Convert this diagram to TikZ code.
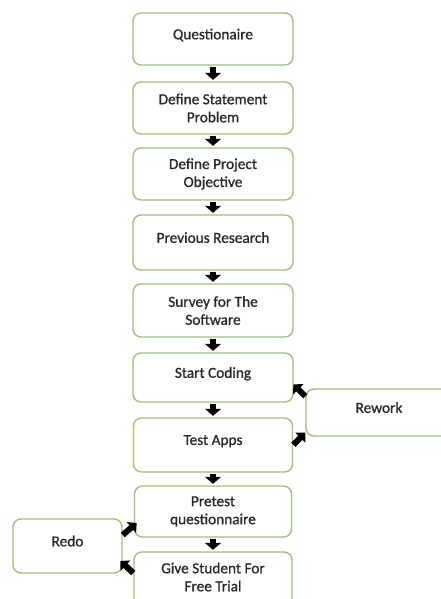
\documentclass[tikz,border=0pt]{standalone}
\usepackage{fontspec}
\setmainfont{Carlito}[FakeBold=0.9]
\usetikzlibrary{arrows.meta,calc}
\definecolor{boxgreen}{RGB}{160,192,125}
\definecolor{txt}{RGB}{40,40,40}
\begin{document}
\begin{tikzpicture}[x=1pt,y=-1pt,
  box/.style={draw=boxgreen,line width=1.4pt,rounded corners=8pt,fill=white,
    inner sep=0pt,align=center,text=txt,
    font=\fontsize{15.3}{18}\selectfont},
  one/.style={text depth=10pt},
  blk/.style={line width=6.5pt,-{Triangle[width=16pt,length=7pt]},shorten <=1pt,shorten >=1.5pt},
  blkd/.style={line width=6pt,-{Triangle[width=14pt,length=7pt]}}]
\clip (0,0) rectangle (441,599);
\fill[white] (0,0) rectangle (441,599);
\node[box,one,minimum width=160,minimum height=52] (q) at (213,39) {Questionaire};
\node[box,minimum width=160,minimum height=52] (dsp) at (213,108) {Define Statement\\Problem};
\node[box,minimum width=160,minimum height=52] (dpo) at (213,174) {Define Project\\Objective};
\node[box,one,minimum width=160,minimum height=55] (pr) at (213,242.5) {Previous Research};
\node[box,minimum width=160,minimum height=53] (sv) at (213,310.5) {Survey for The\\Software};
\node[box,one,minimum width=160,minimum height=49] (sc) at (213,377.5) {Start Coding};
\node[box,one,minimum width=159,minimum height=54] (ta) at (213,445) {Test Apps};
\node[box,minimum width=157,minimum height=51] (pt) at (213,511.5) {Pretest\\questionnaire};
\node[box,minimum width=158,minimum height=62] (gs) at (213,583) {};
\node[text=txt,font=\fontsize{15.3}{18}\selectfont,align=center,inner sep=0pt] (gst) at (213,577) {Give Student For\\Free Trial};
\node[box,one,minimum width=109,minimum height=54] (redo) at (67.5,546) {Redo};
\node[box,one,minimum width=146,minimum height=47] (rw) at (379,412.5) {Rework};
\draw[blk] (q) -- (dsp);
\draw[blk] (dsp) -- (dpo);
\draw[blk] (dpo) -- (pr);
\draw[blk] (pr) -- (sv);
\draw[blk] (sv) -- (sc);
\draw[blk] (sc) -- (ta);
\draw[blk] (ta) -- (pt);
\draw[blk] (pt) -- (gs);
\draw[blkd] ($(rw.north west)+(0,8)$) -- ($(rw.north west)+(-12,-4)$);
\draw[blkd] ($(rw.south west)+(-12,8)$) -- ($(rw.south west)+(0,-4)$);
\draw[blkd] ($(redo.east)+(0,-11)$) -- ($(redo.east)+(14,-23)$);
\draw[blkd] ($(gs.west)+(0,-10)$) -- ($(gs.west)+(-13,-22)$);
\end{tikzpicture}
\end{document}
